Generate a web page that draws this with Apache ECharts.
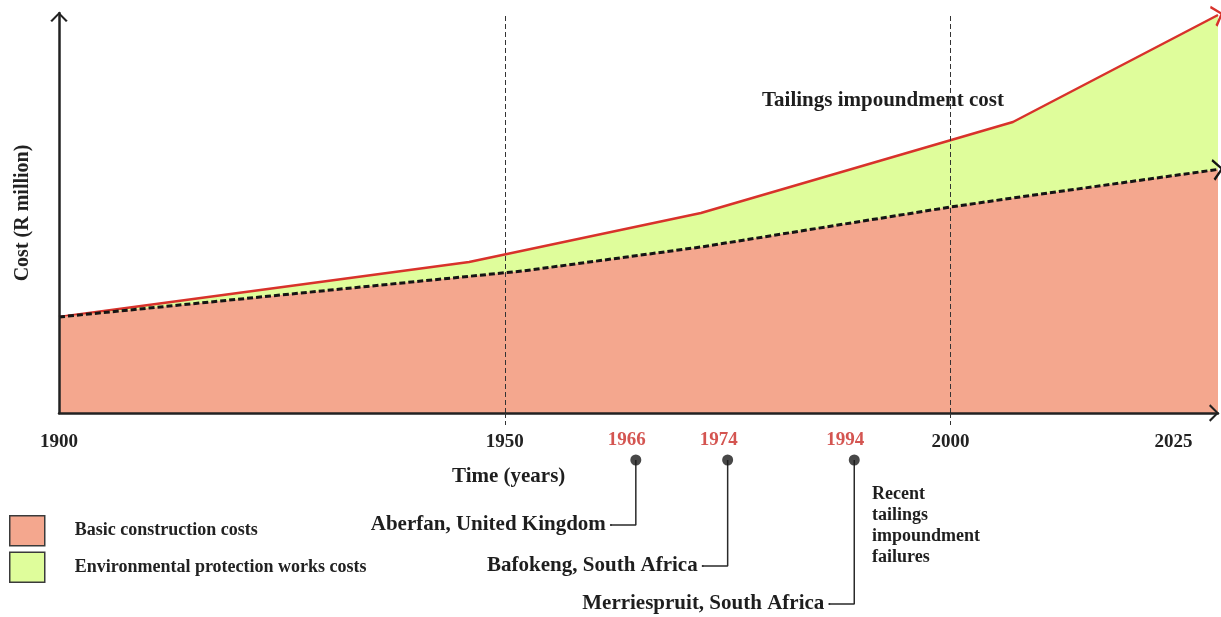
<!DOCTYPE html>
<html>
<head>
<meta charset="utf-8">
<script src="https://cdn.jsdelivr.net/npm/echarts@6/dist/echarts.min.js"></script>
<style>
  html, body { margin: 0; padding: 0; background: #fff; }
  #chart { width: 1221px; height: 617px; }
</style>
</head>
<body>
<div id="chart"></div>
<script>
const FONT = '"Liberation Serif", "Times New Roman", serif';

// tailings impoundment cost (red line, top of green band)
const totalYears = [1900, 1946, 1972, 2007, 2030];
const totalCost = [24, 37.75, 50, 72.75, 99.5];
// basic construction cost (black dashed, top of orange band)
const basicYears = [1900, 1952, 1972, 2000, 2007, 2030];
const basicCost = [24, 35.5, 41.5, 51.5, 53.75, 60.9];

const tickYears = [1900, 1950, 2000, 2025];
const guideYears = [1950, 2000];

// failures (drawn at their spot on the schematic time axis)
const eventLabels = ['1966', '1974', '1994'];
const eventPos = [1964.7, 1975, 1989.2];
const eventNames = ['Aberfan, United Kingdom', 'Bafokeng, South Africa', 'Merriespruit, South Africa'];

// layout of the timeline under the axis (px below its top)
const dotRow = 30;
const nameRows = [95, 136, 174];

const chevron = 'path://M0,10 L10,0 L20,10 L18,11.5 L10,3.2 L2,11.5 Z';

function pairs(xs, ys) {
  return xs.map((x, i) => [x, ys[i]]);
}

function withArrow(data, color, rot) {
  const last = data.length - 1;
  return data.map((d, i) => i < last ? d : {
    value: d,
    symbol: chevron,
    symbolSize: [22, 11],
    symbolRotate: rot,
    itemStyle: { color: color }
  });
}

const chart = echarts.init(document.getElementById('chart'));

const connectors = eventPos.map((p, i) => ({
  type: 'line',
  xAxisIndex: 1,
  yAxisIndex: 1,
  silent: true,
  symbol: 'none',
  lineStyle: { color: '#2a2a2a', width: 1.5 },
  data: [
    [p, dotRow],
    [p, nameRows[i]],
    {
      value: [p - 2.8, nameRows[i]],
      symbol: 'circle',
      symbolSize: 2,
      itemStyle: { color: '#2a2a2a' },
      label: {
        show: true,
        position: 'left',
        distance: 4,
        formatter: eventNames[i],
        fontFamily: FONT,
        fontWeight: 'bold',
        fontSize: 21,
        color: '#1e1e1e'
      }
    }
  ],
  z: 4
}));

const option = {
  animation: false,
  grid: [
    { left: 59, right: 3, top: 13, height: 400, outerBoundsMode: 'none' },
    { left: 59, right: 3, top: 430, height: 187, outerBoundsMode: 'none' }
  ],
  legend: {
    orient: 'vertical',
    left: 4,
    top: 510,
    icon: 'rect',
    itemWidth: 35,
    itemHeight: 30,
    itemGap: 5,
    selectedMode: false,
    textStyle: {
      fontFamily: FONT,
      fontWeight: 'bold',
      fontSize: 18,
      color: '#222',
      padding: [0, 0, 0, 25]
    },
    data: [
      { name: 'Basic construction costs', itemStyle: { color: '#F4A78E', borderColor: '#3a3a3a', borderWidth: 1.5 } },
      { name: 'Environmental protection works costs', itemStyle: { color: '#DFFD9B', borderColor: '#3a3a3a', borderWidth: 1.5 } }
    ]
  },
  xAxis: [
    {
      type: 'value',
      min: 1900,
      max: 2030,
      gridIndex: 0,
      z: 10,
      splitLine: { show: false },
      axisLine: {
        lineStyle: { color: '#222', width: 2.5 },
        symbol: ['none', chevron],
        symbolSize: [24, 10],
        symbolOffset: [0, -4]
      },
      axisTick: {
        show: true,
        customValues: guideYears,
        length: 12,
        lineStyle: { color: '#333', width: 1, type: [5, 3] }
      },
      axisLabel: {
        customValues: tickYears,
        formatter: v => String(v),
        margin: 20,
        fontFamily: FONT,
        fontWeight: 'bold',
        fontSize: 19,
        color: '#222'
      }
    },
    { type: 'value', min: 1900, max: 2030, gridIndex: 1, show: false }
  ],
  yAxis: [
    {
      type: 'value',
      min: 0,
      max: 100,
      gridIndex: 0,
      z: 10,
      name: 'Cost (R million)',
      nameLocation: 'middle',
      nameGap: 26,
      nameTextStyle: { fontFamily: FONT, fontWeight: 'bold', fontSize: 20, color: '#222' },
      splitLine: { show: false },
      axisTick: { show: false },
      axisLabel: { show: false },
      axisLine: {
        show: true,
        lineStyle: { color: '#222', width: 2.5 },
        symbol: ['none', chevron],
        symbolSize: [24, 10],
        symbolOffset: [0, -4]
      }
    },
    { type: 'value', min: 0, max: 187, inverse: true, gridIndex: 1, show: false }
  ],
  graphic: [
    {
      type: 'text', left: 762, top: 90,
      style: { text: 'Tailings impoundment cost', font: 'bold 21px ' + FONT, fill: '#1e1e1e' }
    },
    {
      type: 'text', left: 452, top: 466,
      style: { text: 'Time (years)', font: 'bold 21px ' + FONT, fill: '#1e1e1e' }
    },
    {
      type: 'text', left: 872, top: 484,
      style: { text: 'Recent\ntailings\nimpoundment\nfailures', font: 'bold 18px ' + FONT, lineHeight: 21, fill: '#1e1e1e' }
    }
  ],
  series: [
    {
      name: 'Environmental protection works costs',
      type: 'line',
      clip: false,
      showSymbol: true,
      symbol: 'none',
      lineStyle: { color: '#D8322B', width: 2.5 },
      itemStyle: { color: '#DFFD9B' },
      areaStyle: { color: '#DFFD9B', opacity: 1 },
      data: withArrow(pairs(totalYears, totalCost), '#D8322B', -72),
      z: 2
    },
    {
      name: 'Basic construction costs',
      type: 'line',
      clip: false,
      showSymbol: true,
      symbol: 'none',
      lineStyle: { color: '#151515', width: 3, type: [6, 3] },
      itemStyle: { color: '#F4A78E' },
      areaStyle: { color: '#F4A78E', opacity: 1 },
      data: withArrow(pairs(basicYears, basicCost), '#151515', -83),
      markLine: {
        silent: true,
        symbol: 'none',
        label: { show: false },
        lineStyle: { color: '#333', width: 1, type: [5, 3] },
        data: guideYears.map(y => ({ xAxis: y }))
      },
      z: 3
    },
    {
      type: 'scatter',
      xAxisIndex: 1,
      yAxisIndex: 1,
      silent: true,
      symbolSize: 11,
      itemStyle: { color: '#1a1a1a' },
      label: {
        show: true,
        position: 'top',
        distance: 5,
        offset: [-9, 0],
        formatter: p => eventLabels[p.dataIndex],
        fontFamily: FONT,
        fontWeight: 'bold',
        fontSize: 19,
        color: '#C92B26'
      },
      data: eventPos.map(p => [p, dotRow]),
      z: 5
    },
    ...connectors
  ]
};

chart.setOption(option);
</script>
</body>
</html>
